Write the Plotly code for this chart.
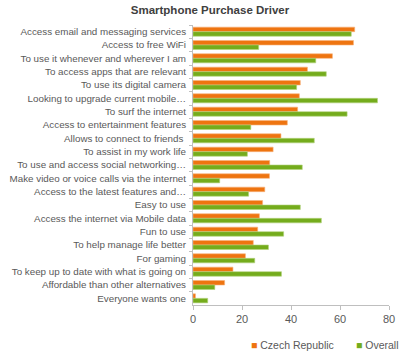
import plotly.graph_objects as go

categories = [
    "Access email and messaging services",
    "Access to free WiFi",
    "To use it whenever and wherever I am",
    "To access apps that are relevant",
    "To use its digital camera",
    "Looking to upgrade current mobile…",
    "To surf the internet",
    "Access to entertainment features",
    "Allows to connect to friends ",
    "To assist in my work life",
    "To use and access social networking…",
    "Make video or voice calls via the internet",
    "Access to the latest features and…",
    "Easy to use",
    "Access the internet via Mobile data",
    "Fun to use",
    "To help manage life better",
    "For gaming",
    "To keep up to date with what is going on",
    "Affordable than other alternatives",
    "Everyone wants one",
]
czech = [66.0, 65.5, 56.9, 46.7, 43.8, 43.4, 42.7, 38.5, 35.9, 32.7, 31.3,
         31.2, 29.3, 28.4, 27.1, 26.4, 24.6, 21.4, 16.3, 12.9, 1.0]
overall = [64.6, 26.8, 50.1, 54.4, 42.3, 75.3, 62.9, 23.6, 49.5, 22.2, 44.6,
           10.9, 22.7, 43.8, 52.4, 37.0, 30.8, 25.2, 36.1, 8.9, 6.0]
x_ticks = [0, 20, 40, 60, 80]

ORANGE = "#EE7410"
GREEN = "#74AC1C"
TEXT = "#595959"

fig = go.Figure()
fig.add_trace(go.Bar(y=categories, x=czech, orientation="h", name="Czech Republic",
                     marker=dict(color=ORANGE, line=dict(width=0.6, color="#F6B27A"))))
fig.add_trace(go.Bar(y=categories, x=overall, orientation="h", name="Overall",
                     marker=dict(color=GREEN, line=dict(width=0.6, color="#B3D47E"))))

fig.update_layout(
    width=412, height=355,
    margin=dict(l=193, r=23, t=25, b=50),
    paper_bgcolor="white", plot_bgcolor="white",
    barmode="group", bargap=0.32, bargroupgap=0,
    font=dict(family="Liberation Sans, Arial, sans-serif", color=TEXT, size=9.8),
    title=dict(text="<b>Smartphone Purchase Driver</b>", x=210 / 412, xref="container",
               xanchor="center", y=1 - 10 / 355, yref="container", yanchor="middle",
               font=dict(size=11.5, color="#404040")),
    showlegend=False,
    xaxis=dict(range=[0, 80], tickvals=x_ticks, showgrid=False, zeroline=False,
               showline=True, linecolor="#BFBFBF", linewidth=1, ticks="outside",
               tickcolor="#BFBFBF", ticklen=4, tickfont=dict(size=11, color=TEXT),
               automargin=False),
    yaxis=dict(autorange="reversed", showgrid=False, showline=True, linecolor="#BFBFBF",
               linewidth=1, ticks="outside", tickson="boundaries", tickcolor="#BFBFBF",
               ticklen=3, tickfont=dict(size=9.8, color=TEXT), automargin=False,
               ticklabelstandoff=4),
)

fig.add_annotation(
    text=f"<span style='color:{ORANGE}'>■</span> Czech Republic",
    xref="paper", yref="paper", x=(249 - 193) / 196, y=-40 / 280,
    xanchor="left", yanchor="middle", showarrow=False,
    font=dict(size=10.5, color=TEXT),
)
fig.add_annotation(
    text=f"<span style='color:{GREEN}'>■</span> Overall",
    xref="paper", yref="paper", x=(354 - 193) / 196, y=-40 / 280,
    xanchor="left", yanchor="middle", showarrow=False,
    font=dict(size=10.5, color=TEXT),
)

fig.write_html("out.html", config={"displayModeBar": False},
               post_script="document.body.style.margin='0';")
